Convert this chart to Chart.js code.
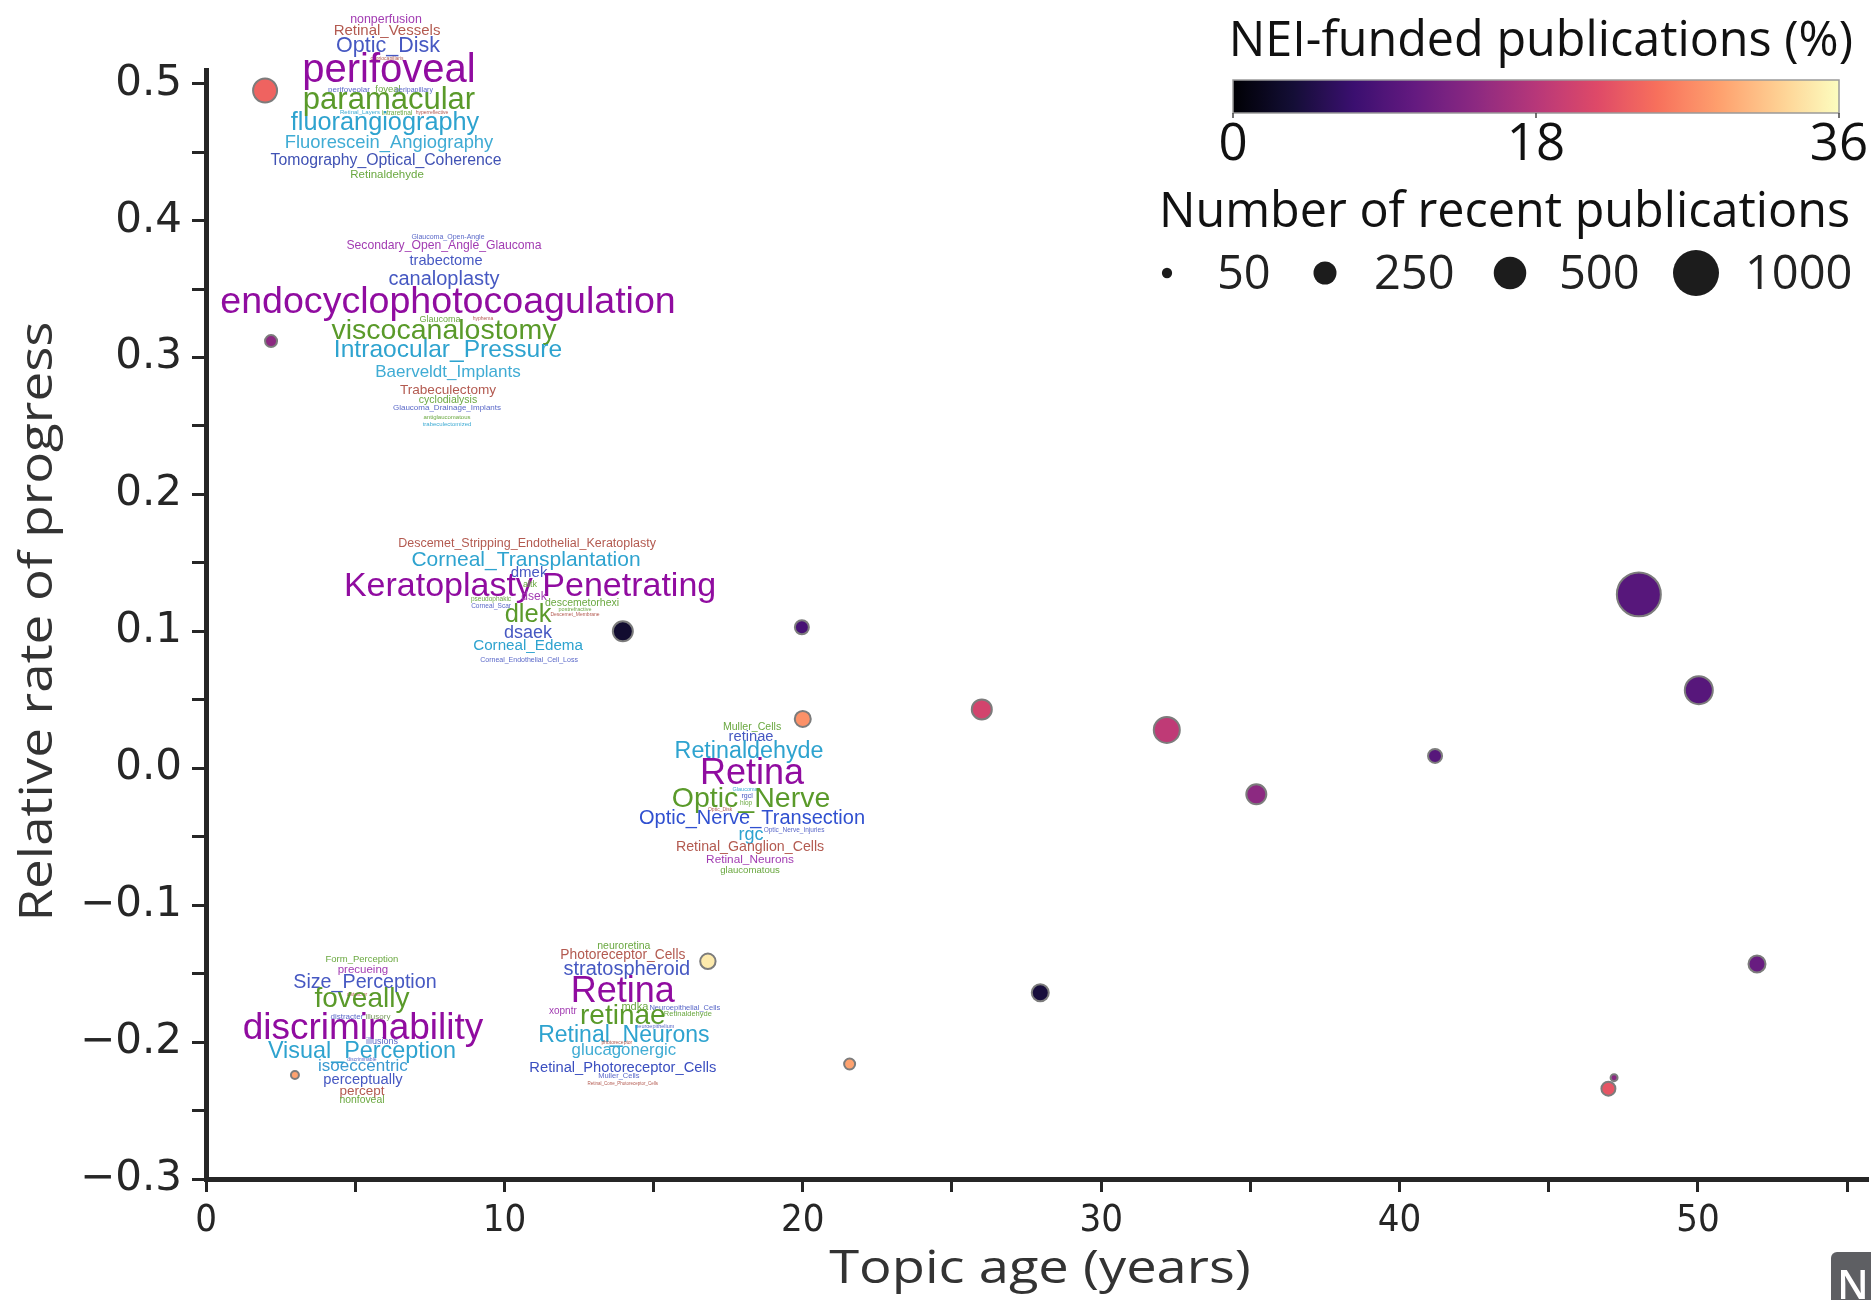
<!DOCTYPE html>
<html><head><meta charset="utf-8">
<script src="https://cdn.jsdelivr.net/npm/chart.js@4/dist/chart.umd.min.js"></script>
<style>html,body{margin:0;padding:0;background:#fff;}#wrap{width:1871px;height:1300px;position:relative;}</style>
</head><body><div id="wrap"><canvas id="c" width="1871" height="1300"></canvas></div>
<script>
// ---- data ----
const topicAge     = [1.98, 2.18, 13.97, 19.97, 20.0, 26.0, 32.2, 35.2, 41.19, 48.02, 50.03, 51.98, 47.0, 47.19, 27.96, 21.57, 16.82, 2.98];
const progressRate = [0.495, 0.312, 0.100, 0.103, 0.036, 0.043, 0.028, -0.019, 0.009, 0.127, 0.057, -0.143, -0.234, -0.226, -0.164, -0.216, -0.141, -0.224];
const recentPubs   = [320, 93, 229, 121, 153, 229, 371, 229, 121, 1000, 426, 171, 121, 38, 171, 80, 143, 47];
const neiFunded    = [24.0, 14.4, 3.2, 8.3, 27.7, 20.5, 18.7, 14.4, 9.7, 9.7, 9.7, 11.2, 22.7, 14.0, 4.0, 29.0, 34.5, 29.0];
const xTickValues = [0,5,10,15,20,25,30,35,40,45,50,55];
const xTickLabels = ['0','','10','','20','','30','','40','','50',''];
const yTickValues = [-0.3,-0.25,-0.2,-0.15,-0.1,-0.05,0,0.05,0.1,0.15,0.2,0.25,0.3,0.35,0.4,0.45,0.5];
const yTickLabels = ['\u22120.3','','\u22120.2','','\u22120.1','','0.0','','0.1','','0.2','','0.3','','0.4','','0.5'];
const colorbarTicks = [0, 18, 36];
const sizeLegendValues = [50, 250, 500, 1000];
const xTitle = 'Topic age (years)';
const yTitle = 'Relative rate of progress';

// word clouds: anchor in data units, words: [text, dx, dy, fontSize, color]
const PU='#900ca0', GR='#5a9a2a', TE='#2ea3cf', LT='#40acd4', BL='#4658c2', BR='#b35a50', LP='#a23cb2', LG='#6aa840', SB='#5a68c8';
const clouds = [
 {anchor:[6.1,0.489], words:[
  ['nonperfusion',-2,-81,12.4,LP],['Retinal_Vessels',-1,-70,15,BR],['Optic_Disk',0,-55,21.5,BL],
  ['choriocapillaris',-1,-42,5,BR],['perifoveal',1,-30,40,PU],['perifoveolar',-39,-11,8,SB],['foveal',0,-11,9.5,LG],
  ['peripapillary',26,-11,7,SB],['paramacular',1,0,31,GR],['Retinal_Layers',-28,12,6,LT],['intraretinal',9,12,6.5,LG],
  ['hyperreflective',44,12,5,BR],['fluorangiography',-3,22,25.3,TE],['Fluorescein_Angiography',1,42,18.4,LT],
  ['Tomography_Optical_Coherence',-2,60,15.8,'#4052b4'],['Retinaldehyde',-1,74,11.5,LG]]},
 {anchor:[8.11,0.3412], words:[
  ['Glaucoma_Open-Angle',0,-66,7,SB],['Secondary_Open_Angle_Glaucoma',-4,-57,12.2,LP],['trabectome',-2,-42,14.6,BL],
  ['canaloplasty',-4,-24,20,BL],['endocyclophotocoagulation',0,0,37.6,PU],['Glaucoma',-8,16,9,LG],['hyphema',35,16,5,BR],
  ['viscocanalostomy',-4,28,28.5,GR],['Intraocular_Pressure',0,47,24.6,TE],['Baerveldt_Implants',0,69,17,LT],
  ['Trabeculectomy',0,87,13.6,BR],['cyclodialysis',0,97,10.5,LG],['Glaucoma_Drainage_Implants',-1,105,8,SB],
  ['antiglaucomatous',-1,114,6,LG],['trabeculectomized',-1,121,6,LT]]},
 {anchor:[10.86,0.1339], words:[
  ['Descemet_Stripping_Endothelial_Keratoplasty',-3,-43,12.5,BR],['Corneal_Transplantation',-4,-27,21,TE],
  ['dmek',-1,-14,15,BL],['Keratoplasty Penetrating',0,0,34,PU],['altk',0,-2,9,LG],['dsek',4,10,12,LP],
  ['pseudophakic',-39,12,6.5,LG],['descemetorhexi',52,16,10.5,LG],['Corneal_Scar',-39,19,6.5,SB],
  ['postrefractive',45,23,5.5,LG],['Descemet_Membrane',45,28,5,BR],['dlek',-2,28,25.5,GR],['dsaek',-2,46,18,BL],
  ['Corneal_Edema',-2,59,15.2,TE],['Corneal_Endothelial_Cell_Loss',-1,73,7,SB]]},
 {anchor:[18.30,-0.0026], words:[
  ['Muller_Cells',0,-47,10.6,LG],['retinae',-1,-37,14.7,BL],['Retinaldehyde',-3,-22,23.3,TE],['Retina',0,0,36,PU],
  ['Glaucoma',-7,16,5.5,LT],['rgcl',-5,22,7,BL],['hiop',-6,29,6.5,LG],['Optic_Nerve',-1,25,28.5,GR],
  ['Optic_Disk',-32,36,5,BR],['Optic_Nerve_Transection',0,45,20,'#3050d0'],['Optic_Nerve_Injuries',42,56,6.5,SB],
  ['rgc',-1,61,18,TE],['Retinal_Ganglion_Cells',-2,73,14.2,BR],['Retinal_Neurons',-2,86,11.8,LP],['glaucomatous',-2,97,9.6,LG]]},
 {anchor:[5.26,-0.1887], words:[
  ['Form_Perception',-1,-69,9.5,LG],['precueing',0,-59,11.5,LP],['Size_Perception',2,-46,19.7,BL],['distractor',-6,-34,5,BR],
  ['foveally',-1,-29,28,GR],['distracter',-16,-12,8,SB],['illusory',15,-12,8,'#7a9a60'],['discriminability',0,0,37,PU],
  ['illusions',19,13,9,SB],['Visual_Perception',-1,23,23.4,TE],['discriminable',-1,31,5,SB],['isoeccentric',0,38,17,'#3a9ad0'],
  ['perceptually',0,51,14.7,BL],['percept',-1,63,13.5,BR],['nonfoveal',-1,72,10.4,LG]]},
 {anchor:[13.97,-0.1617], words:[
  ['neuroretina',1,-46,10.5,LG],['Photoreceptor_Cells',0,-36,13.8,BR],['stratospheroid',4,-22,20,BL],['Retina',0,0,36,PU],
  ['xopntr',-60,20,10,LP],['mdka',12,15,11,LG],['Neuroepithelial_Cells',62,16,7.5,SB],['Retinaldehyde',65,22,7.5,LG],
  ['retinae',0,25,28,GR],['neuroepithelium',32,35,5.5,SB],['Retinal_Neurons',1,44,23,TE],['photoreceptor',-6,51,5,BR],
  ['glucagonergic',1,59,16.8,LT],['Retinal_Photoreceptor_Cells',0,76,14.7,'#3a4ec0'],['Muller_Cells',-4,84,7.5,SB],
  ['Retinal_Cone_Photoreceptor_Cells',0,92,4.5,BR]]}
];

// ---- helpers ----
const MAGMA = ['#000004','#140e36','#3b0f70','#641a80','#8c2981','#b73779','#de4968','#f7705c','#fe9f6d','#fecf92','#fcfdbf'];
function hex2rgb(h){return [parseInt(h.slice(1,3),16),parseInt(h.slice(3,5),16),parseInt(h.slice(5,7),16)];}
function magma(t){
  t=Math.max(0,Math.min(1,t)); const p=t*10, i=Math.min(9,Math.floor(p)), f=p-i;
  const a=hex2rgb(MAGMA[i]), b=hex2rgb(MAGMA[i+1]);
  return 'rgb('+a.map((v,k)=>Math.round(v+(b[k]-v)*f)).join(',')+')';
}
const CMAX = 36;
function sizeToRadius(n){ return 0.727*Math.sqrt(n); }

const wordCloudPlugin = {
  id:'wordclouds',
  beforeDatasetsDraw(chart){
    const ctx=chart.ctx, xs=chart.scales.x, ys=chart.scales.y;
    ctx.save(); ctx.textAlign='center'; ctx.textBaseline='middle';
    clouds.forEach(c=>{
      const ax=xs.getPixelForValue(c.anchor[0]), ay=ys.getPixelForValue(c.anchor[1]);
      c.words.forEach(w=>{
        ctx.font=w[3]+"px 'Liberation Sans', Arial, sans-serif";
        ctx.fillStyle=w[4];
        ctx.fillText(w[0], ax+w[1], ay+w[2]+2);
      });
    });
    ctx.restore();
  }
};

const titlePlugin = {
  id:'axisTitles',
  afterDraw(chart){
    const ctx=chart.ctx, ca=chart.chartArea; ctx.save();
    ctx.fillStyle='#333'; ctx.font="46px 'Open Sans', sans-serif";
    ctx.textAlign='center'; ctx.textBaseline='middle';
    ctx.save(); ctx.translate((ca.left+ca.right)/2+3,1270); ctx.scale(1.18,1);
    ctx.fillText(xTitle,0,0); ctx.restore();
    ctx.save(); ctx.translate(39,(ca.top+ca.bottom)/2-3); ctx.rotate(-Math.PI/2); ctx.scale(1.15,1);
    ctx.fillText(yTitle,0,0); ctx.restore();
    ctx.restore();
  }
};

const legendPlugin = {
  id:'customLegend',
  afterDraw(chart){
    const ctx=chart.ctx; ctx.save();
    ctx.fillStyle='#111'; ctx.textBaseline='alphabetic';
    ctx.font="48.5px 'Open Sans', sans-serif";
    ctx.textAlign='right';
    ctx.fillText('NEI-funded publications (%)',1853,56);
    const x0=1233,x1=1839,y0=80,y1=113;
    const g=ctx.createLinearGradient(x0,0,x1,0);
    for(let i=0;i<=40;i++){ g.addColorStop(i/40, magma(i/40)); }
    ctx.fillStyle=g; ctx.fillRect(x0,y0,x1-x0,y1-y0);
    ctx.strokeStyle='#9a9a9a'; ctx.lineWidth=1.5; ctx.strokeRect(x0,y0,x1-x0,y1-y0);
    ctx.strokeStyle='#444'; ctx.lineWidth=1.5;
    ctx.font="51px 'Open Sans', sans-serif"; ctx.textAlign='center'; ctx.fillStyle='#111';
    colorbarTicks.forEach(v=>{
      const px=x0+(x1-x0)*v/CMAX;
      ctx.beginPath(); ctx.moveTo(px,y1); ctx.lineTo(px,y1+5); ctx.stroke();
      ctx.fillText(String(v),px,160);
    });
    ctx.font="48.5px 'Open Sans', sans-serif"; ctx.textAlign='right';
    ctx.fillText('Number of recent publications',1850,227);
    const dotX=[1167,1325,1510,1696], labX=[1217,1374,1559,1745];
    ctx.font="47px 'Open Sans', sans-serif"; ctx.textAlign='left';
    sizeLegendValues.forEach((n,i)=>{
      ctx.fillStyle='#1c1c1c';
      ctx.beginPath(); ctx.arc(dotX[i],273,sizeToRadius(n),0,Math.PI*2); ctx.fill();
      ctx.fillStyle='#222';
      ctx.fillText(String(n),labX[i],289);
    });
    ctx.fillStyle='#5e5f63';
    ctx.beginPath(); if(ctx.roundRect){ctx.roundRect(1831,1252,70,70,6);} else {ctx.rect(1831,1252,70,70);} ctx.fill();
    ctx.fillStyle='#fff'; ctx.font="600 40px 'Open Sans', sans-serif"; ctx.textAlign='center';
    ctx.fillText('N',1853,1299);
    ctx.restore();
  }
};

const points = topicAge.map((x,i)=>({x:x, y:progressRate[i]}));

new Chart(document.getElementById('c'), {
  type:'scatter',
  data:{datasets:[{
    data:points,
    backgroundColor: neiFunded.map(v=>magma(v/CMAX)),
    borderColor:'#7c7c7c',
    borderWidth:2,
    pointRadius: recentPubs.map(n=>sizeToRadius(n)-1),
    pointHoverRadius: recentPubs.map(n=>sizeToRadius(n)-1)
  }]},
  options:{
    responsive:false, animation:false, events:[],
    layout:{autoPadding:false, padding:{top:70,right:3,left:0,bottom:0}},
    plugins:{legend:{display:false}, tooltip:{enabled:false}},
    scales:{
      x:{
        type:'linear', min:0, max:55.7,
        afterBuildTicks: s=>{ s.ticks = xTickValues.map(v=>({value:v})); },
        afterFit: s=>{ s.height = 121; s.paddingRight = 0; s.paddingLeft = 0; },
        ticks:{ autoSkip:false, maxRotation:0, padding:6, color:'#262626',
          font:{family:"'Liberation Sans Narrow', 'DejaVu Sans Condensed', sans-serif", size:38},
          callback:(v,i)=>xTickLabels[i] },
        grid:{ drawOnChartArea:false, drawTicks:true, tickLength:13, tickWidth:3, tickColor:'#262626' },
        border:{ display:true, width:5, color:'#262626' },
        title:{ display:false }
      },
      y:{
        type:'linear', min:-0.3, max:0.51,
        afterBuildTicks: s=>{ s.ticks = yTickValues.map(v=>({value:v})); },
        afterFit: s=>{ s.width = 206; },
        ticks:{ autoSkip:false, padding:10, color:'#262626',
          font:{family:"'DejaVu Sans', sans-serif", size:42},
          callback:(v,i)=>yTickLabels[i] },
        grid:{ drawOnChartArea:false, drawTicks:true, tickLength:14, tickWidth:3, tickColor:'#262626' },
        border:{ display:true, width:5, color:'#262626' },
        title:{ display:false }
      }
    }
  },
  plugins:[wordCloudPlugin, titlePlugin, legendPlugin]
});
</script></body></html>
